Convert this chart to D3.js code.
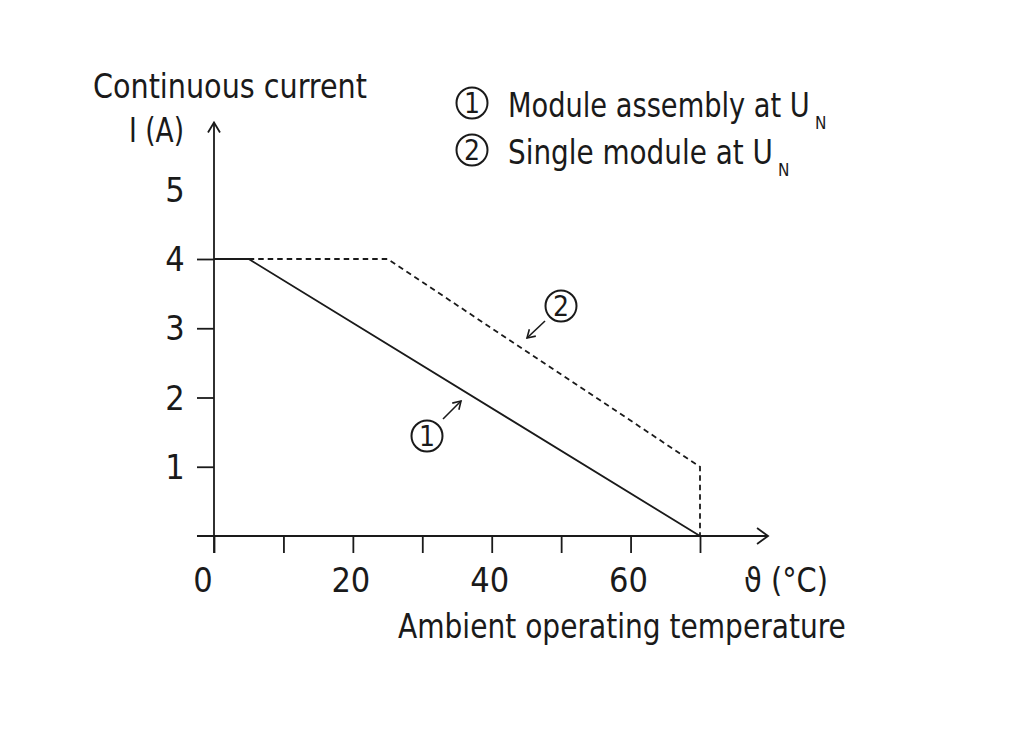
<!DOCTYPE html>
<html><head><meta charset="utf-8">
<script src="https://cdn.jsdelivr.net/npm/d3@7"></script>
<style>
body{margin:0;background:#fff;}
text{font-family:"DejaVu Sans Condensed","Liberation Sans Narrow","Roboto",sans-serif;fill:#1a1a1a;}
</style></head>
<body><svg id="c" width="1024" height="729"></svg>
<script>
// Data
const xTicks = [0,10,20,30,40,50,60,70];
const xTickLabels = [0,20,40,60];
const yTicks = [1,2,3,4];
const yTickLabels = [1,2,3,4,5];
const curve1 = [[0,4],[5,4],[70,0]];           // module assembly at UN (solid)
const curve2 = [[5,4],[25,4],[70,1],[70,0]];   // single module at UN (dashed)
const legendLabels = ["Module assembly at U","Single module at U"];
const legendMarks = ["1","2"];

const svg = d3.select("#c");
const x = d3.scaleLinear().domain([0,70]).range([214,700]);
const y = d3.scaleLinear().domain([0,4]).range([536,259]);
const ink = "#1a1a1a";
const fs = 34;

// x axis ticks
const gx = svg.append("g").attr("transform",`translate(0,${y(0)})`)
  .call(d3.axisBottom(x).tickValues(xTicks).tickSize(17).tickFormat(""));
gx.select(".domain").remove();
gx.selectAll("line").attr("stroke",ink).attr("stroke-width",1.8);
// y axis ticks
const gy = svg.append("g").attr("transform",`translate(${x(0)},0)`)
  .call(d3.axisLeft(y).tickValues(yTicks).tickSize(17).tickFormat(""));
gy.select(".domain").remove();
gy.selectAll("line").attr("stroke",ink).attr("stroke-width",1.8);

// axis lines
svg.append("line").attr("x1",x(-2.45)).attr("x2",x(79.8)).attr("y1",y(0)).attr("y2",y(0))
  .attr("stroke",ink).attr("stroke-width",1.8);
svg.append("line").attr("x1",x(0)).attr("x2",x(0)).attr("y1",y(-0.245)).attr("y2",y(5.97))
  .attr("stroke",ink).attr("stroke-width",1.8);
// arrowheads
const ax = x(79.8), ay = y(0);
svg.append("path").attr("d",`M${ax-11},${ay-8}L${ax},${ay}L${ax-11},${ay+8}`).attr("fill","none").attr("stroke",ink).attr("stroke-width",1.8);
const bx = x(0), by = y(5.97);
svg.append("path").attr("d",`M${bx-6},${by+10}L${bx},${by}L${bx+6},${by+10}`).attr("fill","none").attr("stroke",ink).attr("stroke-width",1.8);

// curves
const line = d3.line().x(d=>x(d[0])).y(d=>y(d[1]));
svg.append("path").attr("d",line(curve1)).attr("fill","none").attr("stroke",ink).attr("stroke-width",1.8);
svg.append("path").attr("d",line(curve2)).attr("fill","none").attr("stroke",ink).attr("stroke-width",1.8).attr("stroke-dasharray","5.5,4");

// tick labels
svg.selectAll(".xl").data(xTickLabels).enter().append("text")
  .attr("x",d=>d===0?x(d)-11:x(d)-2).attr("y",y(0)+56).attr("text-anchor","middle").attr("font-size",fs).text(d=>d);
svg.selectAll(".yl").data(yTickLabels).enter().append("text")
  .attr("x",175).attr("y",d=>y(d)+12).attr("text-anchor","middle").attr("font-size",fs).text(d=>d);

function fitText(t,x0,yb,len,size){
  const el = svg.append("text").attr("font-size",size||fs).text(t);
  const w = el.node().getComputedTextLength();
  el.attr("transform",`translate(${x0},${yb}) scale(${len/w},1)`);
  return el;
}
// axis titles
fitText("Continuous current",93,98,274);
fitText("I (A)",129,142,55);
fitText("ϑ (°C)",744,592,84);
fitText("Ambient operating temperature",398,638,448);

// circled marks
function circled(cx,cy,t){
  svg.append("circle").attr("cx",cx).attr("cy",cy).attr("r",15.5).attr("fill","none").attr("stroke",ink).attr("stroke-width",2);
  svg.append("text").attr("x",cx).attr("y",cy+10).attr("text-anchor","middle").attr("font-size",28).text(t);
}
function arrow(x1,y1,x2,y2){
  svg.append("line").attr("x1",x1).attr("y1",y1).attr("x2",x2).attr("y2",y2).attr("stroke",ink).attr("stroke-width",1.6);
  const a = Math.atan2(y2-y1,x2-x1), L=9, w=0.55;
  svg.append("path").attr("d",`M${x2-L*Math.cos(a-w)},${y2-L*Math.sin(a-w)}L${x2},${y2}L${x2-L*Math.cos(a+w)},${y2-L*Math.sin(a+w)}`)
    .attr("fill","none").attr("stroke",ink).attr("stroke-width",1.6);
}
// legend
const legendLens = [302,265];
legendLabels.forEach((lab,i)=>{
  const cy = 103 + i*47;
  circled(472,cy,legendMarks[i]);
  fitText(lab,508,cy+14,legendLens[i]);
  svg.append("text").attr("x",508+legendLens[i]+5).attr("y",cy+26).attr("font-size",17).text("N");
});
// annotations
circled(427,436,legendMarks[0]);
arrow(443,419,461,401);
circled(561,306,legendMarks[1]);
arrow(545,321,527,338);
</script></body></html>
